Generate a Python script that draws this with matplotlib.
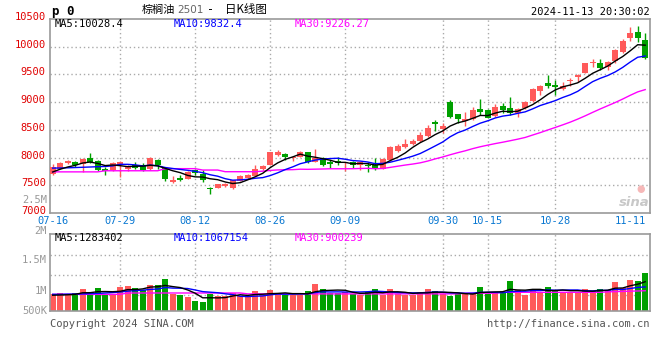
import matplotlib
matplotlib.use('Agg')
import matplotlib.pyplot as plt
from matplotlib.transforms import ScaledTranslation
import numpy as np

plt.rcParams['font.family'] = ['DejaVu Sans Mono']

# daily candles 2024-07-16 .. 2024-11-13 (palm oil 2501)
open_ = [7708, 7797, 7899, 7917, 7887, 7988, 7946, 7797, 7768, 7857,
         7797, 7857, 7857, 7797, 7964, 7809, 7560, 7631, 7619, 7768,
         7708, 7458, 7458, 7482, 7458, 7583, 7637, 7667, 7797, 7875,
         8053, 8065, 7988, 8018, 8095, 7928, 7988, 7917, 7940, 7899,
         7928, 7857, 7875, 7857, 7797, 7964, 8113, 8184, 8244, 8292,
         8381, 8635, 8511, 8995, 8782, 8664, 8694, 8885, 8853, 8748,
         8929, 8887, 8796, 8887, 9019, 9206, 9338, 9302, 9230, 9380,
         9446, 9531, 9711, 9699, 9639, 9741, 9910, 10151, 10271, 10121]
high = [7887, 7928, 7964, 7935, 7994, 8077, 7964, 7827, 7928, 7946,
        7869, 7928, 7905, 8006, 7976, 7827, 7667, 7690, 7756, 7797,
        7768, 7470, 7530, 7542, 7601, 7679, 7708, 7869, 7875, 8107,
        8137, 8077, 8036, 8113, 8107, 8155, 8006, 7964, 8006, 7928,
        7946, 7928, 7928, 7994, 7988, 8214, 8244, 8333, 8333, 8470,
        8588, 8676, 8617, 9037, 8794, 8830, 8915, 9055, 8883, 8975,
        8990, 9097, 8887, 9019, 9248, 9302, 9489, 9398, 9368, 9428,
        9507, 9711, 9771, 9771, 9747, 9952, 10133, 10361, 10379, 10241]
low = [7679, 7786, 7887, 7827, 7738, 7899, 7756, 7679, 7756, 7649,
       7750, 7786, 7750, 7768, 7786, 7583, 7548, 7583, 7607, 7679,
       7560, 7339, 7446, 7470, 7440, 7571, 7619, 7661, 7768, 7857,
       8036, 7958, 7934, 8006, 7905, 7917, 7845, 7809, 7869, 7750,
       7809, 7768, 7738, 7768, 7786, 7946, 8095, 8166, 8226, 8281,
       8369, 8487, 8440, 8718, 8629, 8570, 8676, 8766, 8706, 8735,
       8810, 8766, 8736, 8874, 9007, 9127, 9248, 9127, 9218, 9290,
       9368, 9519, 9639, 9579, 9579, 9711, 9892, 10109, 10090, 9771]
close = [7827, 7905, 7946, 7857, 7976, 7917, 7768, 7762, 7905, 7917,
         7827, 7809, 7768, 7988, 7857, 7607, 7589, 7601, 7738, 7726,
         7589, 7435, 7518, 7530, 7589, 7661, 7690, 7797, 7845, 8095,
         8095, 8006, 8018, 8095, 7917, 7994, 7875, 7881, 7905, 7917,
         7857, 7917, 7851, 7786, 7976, 8196, 8214, 8244, 8291, 8399,
         8529, 8611, 8570, 8736, 8688, 8694, 8853, 8830, 8720, 8915,
         8860, 8808, 8875, 9007, 9230, 9290, 9290, 9278, 9290, 9398,
         9488, 9699, 9729, 9609, 9729, 9940, 10109, 10241, 10163, 9790]

ma5 = [7740, 7790, 7830, 7860, 7902, 7920, 7893, 7856, 7866, 7854,
       7836, 7844, 7845, 7862, 7850, 7806, 7762, 7728, 7678, 7652,
       7649, 7618, 7601, 7560, 7532, 7547, 7598, 7653, 7716, 7818,
       7904, 7968, 8012, 8062, 8026, 8006, 7980, 7952, 7914, 7914,
       7887, 7895, 7889, 7866, 7877, 7945, 8005, 8083, 8184, 8269,
       8335, 8415, 8480, 8569, 8627, 8660, 8708, 8760, 8757, 8802,
       8836, 8827, 8836, 8893, 8956, 9042, 9138, 9219, 9276, 9309,
       9349, 9431, 9521, 9585, 9651, 9741, 9823, 9926, 10036, 10028]
ma10 = [7810, 7812, 7815, 7820, 7825, 7830, 7835, 7840, 7850, 7878,
        7878, 7868, 7850, 7864, 7852, 7821, 7803, 7786, 7770, 7751,
        7727, 7690, 7664, 7619, 7592, 7598, 7608, 7627, 7638, 7675,
        7725, 7783, 7832, 7889, 7922, 7955, 7974, 7982, 7988, 7970,
        7946, 7937, 7920, 7890, 7895, 7916, 7950, 7986, 8025, 8073,
        8140, 8210, 8281, 8376, 8448, 8497, 8561, 8620, 8663, 8714,
        8748, 8767, 8798, 8825, 8879, 8939, 8982, 9027, 9084, 9132,
        9195, 9284, 9370, 9430, 9480, 9545, 9627, 9723, 9810, 9832]
ma30 = [7742, 7742, 7742, 7742, 7742, 7742, 7742, 7762, 7762, 7762,
        7762, 7762, 7762, 7762, 7762, 7800, 7800, 7800, 7800, 7800,
        7775, 7775, 7775, 7745, 7745, 7745, 7745, 7745, 7755, 7768,
        7777, 7780, 7782, 7790, 7788, 7791, 7794, 7798, 7798, 7798,
        7799, 7803, 7806, 7799, 7803, 7823, 7844, 7865, 7883, 7905,
        7937, 7976, 8011, 8051, 8088, 8122, 8161, 8195, 8224, 8252,
        8277, 8304, 8332, 8363, 8407, 8450, 8497, 8543, 8590, 8639,
        8694, 8753, 8816, 8877, 8935, 8993, 9056, 9123, 9185, 9226]

# volume, millions of lots
vol = [0.74, 0.80, 0.73, 0.80, 0.98, 0.76, 1.02, 0.76, 0.76, 1.08,
       1.13, 1.02, 0.92, 1.16, 1.16, 1.42, 0.76, 0.71, 0.62, 0.44,
       0.40, 0.77, 0.68, 0.68, 0.80, 0.68, 0.62, 0.89, 0.73, 0.93,
       0.74, 0.73, 0.73, 0.73, 0.89, 1.20, 0.98, 0.79, 0.79, 0.84,
       0.77, 0.73, 0.84, 0.98, 0.73, 0.98, 0.74, 0.73, 0.73, 0.84,
       0.98, 0.89, 0.74, 0.68, 0.74, 0.80, 0.80, 1.07, 0.77, 0.80,
       0.84, 1.33, 0.93, 0.73, 0.98, 0.84, 1.07, 0.93, 0.84, 0.84,
       0.84, 0.98, 0.89, 0.98, 0.93, 1.29, 1.02, 1.38, 1.33, 1.69]
vma5 = [0.70, 0.71, 0.72, 0.74, 0.81, 0.814, 0.858, 0.864, 0.856, 0.876,
        0.95, 0.95, 0.982, 1.062, 1.078, 1.136, 1.084, 1.042, 0.934, 0.79,
        0.586, 0.588, 0.582, 0.594, 0.666, 0.722, 0.692, 0.734, 0.744, 0.77,
        0.782, 0.804, 0.772, 0.772, 0.764, 0.856, 0.906, 0.918, 0.93, 0.92,
        0.834, 0.784, 0.794, 0.832, 0.81, 0.852, 0.854, 0.832, 0.782, 0.804,
        0.804, 0.834, 0.836, 0.826, 0.806, 0.77, 0.752, 0.818, 0.836, 0.848,
        0.856, 0.962, 0.934, 0.926, 0.962, 0.962, 0.91, 0.91, 0.932, 0.904,
        0.904, 0.886, 0.878, 0.906, 0.924, 1.014, 1.022, 1.12, 1.19, 1.30]
vma10 = [0.74, 0.74, 0.75, 0.75, 0.76, 0.77, 0.78, 0.80, 0.82, 0.843,
         0.882, 0.904, 0.923, 0.959, 0.977, 1.043, 1.017, 1.012, 0.998, 0.934,
         0.861, 0.836, 0.812, 0.764, 0.728, 0.654, 0.64, 0.658, 0.669, 0.718,
         0.752, 0.748, 0.753, 0.758, 0.767, 0.819, 0.855, 0.845, 0.851, 0.842,
         0.845, 0.845, 0.856, 0.881, 0.865, 0.843, 0.819, 0.813, 0.807, 0.807,
         0.828, 0.844, 0.834, 0.804, 0.805, 0.787, 0.793, 0.827, 0.831, 0.827,
         0.813, 0.857, 0.876, 0.881, 0.905, 0.909, 0.936, 0.922, 0.929, 0.933,
         0.933, 0.898, 0.894, 0.919, 0.914, 0.959, 0.954, 0.999, 1.048, 1.07]
vma30 = [0.74, 0.74, 0.74, 0.74, 0.74, 0.74, 0.74, 0.74, 0.74, 0.74,
         0.80, 0.80, 0.80, 0.80, 0.80, 0.80, 0.80, 0.80, 0.80, 0.80,
         0.80, 0.80, 0.80, 0.80, 0.80, 0.80, 0.76, 0.76, 0.76, 0.76,
         0.76, 0.76, 0.76, 0.76, 0.76, 0.76, 0.76, 0.76, 0.76, 0.76,
         0.76, 0.76, 0.76, 0.76, 0.76, 0.76, 0.76, 0.76, 0.76, 0.76,
         0.76, 0.76, 0.76, 0.76, 0.76, 0.79, 0.79, 0.79, 0.79, 0.79,
         0.83, 0.83, 0.83, 0.83, 0.83, 0.83, 0.83, 0.83, 0.83, 0.83,
         0.83, 0.83, 0.83, 0.83, 0.85, 0.86, 0.87, 0.88, 0.89, 0.90]

tick_idx = [0, 9, 19, 29, 39, 52, 58, 67, 77]
tick_lbl = ['07-16', '07-29', '08-12', '08-26', '09-09', '09-30', '10-15', '10-28', '11-11']
price_ticks = [7000, 7500, 8000, 8500, 9000, 9500, 10000, 10500]

for name, arr in [('high', high), ('low', low), ('close', close), ('ma5', ma5), ('ma10', ma10),
                  ('ma30', ma30), ('vol', vol), ('vma5', vma5), ('vma10', vma10), ('vma30', vma30)]:
    if len(arr) != len(open_):
        raise SystemExit(f'{name} has {len(arr)} values')

RED = '#FF5A5A'
GREEN = '#00A000'
GRID = '#AAAAAA'
BORDER = '#9A9A9A'
W, H = 660, 360

fig = plt.figure(figsize=(6.6, 3.6), dpi=100)
ax = fig.add_axes([50 / W, 1 - 213 / H, 600 / W, 194 / H])
axv = fig.add_axes([50 / W, 1 - 311 / H, 600 / W, 77 / H])

o = np.array(open_, float)
c = np.array(close, float)
x = np.arange(len(c))
cols = np.where(c >= o, RED, GREEN)

# price panel
for xi in tick_idx[1:-1]:
    ax.axvline(xi, color=GRID, lw=1, ls=(0, (1, 2)), zorder=0)
for p in price_ticks[1:-1]:
    ax.axhline(p, color=GRID, lw=1, ls=(0, (1, 2)), zorder=0)
ax.vlines(x, low, high, colors=cols, lw=1, zorder=2)
ax.bar(x, np.maximum(np.abs(c - o), 14), bottom=np.minimum(o, c), width=0.8,
       color=cols, lw=0, zorder=3)
ax.plot(x, ma30, color='#FF00FF', lw=1, zorder=4)
ax.plot(x, ma10, color='#0000FF', lw=1, zorder=4)
ax.plot(x, ma5, color='black', lw=1, zorder=4)
ax.set_xlim(-0.36, 79.64)
ax.set_ylim(7000, 10500)
ax.set_yticks(price_ticks)
ax.set_yticklabels([str(p) for p in price_ticks], color='#E00000', fontsize=7.5)
ax.set_xticks(tick_idx)
ax.set_xticklabels(tick_lbl, color='#0A78D2', fontsize=7.5)
ax.tick_params(length=0, pad=3)
ax.tick_params(axis='x', pad=2)
up2 = ScaledTranslation(0, 3 / 100, fig.dpi_scale_trans)
for lab in ax.get_yticklabels():
    lab.set_transform(lab.get_transform() + up2)

# volume panel
vgrid = [0.71, 1.6, 2.49]
for xi in tick_idx[1:-1]:
    axv.axvline(xi, color=GRID, lw=1, ls=(0, (1, 2)), zorder=0)
for g in vgrid:
    axv.axhline(g, color=GRID, lw=1, ls=(0, (1, 2)), zorder=0)
axv.bar(x, vol, width=0.8, color=cols, lw=0, zorder=2)
axv.plot(x, vma30, color='#FF00FF', lw=1, zorder=3)
axv.plot(x, vma10, color='#0000FF', lw=1, zorder=3)
axv.plot(x, vma5, color='black', lw=1, zorder=3)
axv.set_xlim(-0.36, 79.64)
axv.set_ylim(0, 3.42)
axv.set_xticks([])
axv.set_yticks([])

for a in (ax, axv):
    for s in a.spines.values():
        s.set_color(BORDER)
        s.set_linewidth(1.2)


def ftext(px, py, s, **kw):
    fig.text(px / W, 1 - py / H, s, **kw)


ftext(52, 11, 'p 0', fontsize=9, fontweight='bold', va='center')
cjk = ['Noto Sans CJK SC', 'DejaVu Sans']
ftext(142, 10, '棕榈油', family=cjk, fontsize=8, va='center')
ftext(177, 10, '2501', family=['DejaVu Sans'], fontsize=7.5, color='#666666', va='center')
ftext(207, 10, '-', fontsize=8.5, va='center')
ftext(225, 10, '日K线图', family=cjk, fontsize=8.3, va='center')
ftext(650, 12, '2024-11-13 20:30:02', fontsize=7.5, ha='right', va='center')

ftext(55, 24, 'MA5:10028.4', fontsize=7.5, va='center')
ftext(174, 24, 'MA10:9832.4', fontsize=7.5, color='#0000FF', va='center')
ftext(295, 24, 'MA30:9226.27', fontsize=7.5, color='#FF00FF', va='center')
ftext(55, 238, 'MA5:1283402', fontsize=7.5, va='center')
ftext(174, 238, 'MA10:1067154', fontsize=7.5, color='#0000FF', va='center')
ftext(295, 238, 'MA30:900239', fontsize=7.5, color='#FF00FF', va='center')

for lbl, py in [('2.5M', 200), ('2M', 231), ('1.5M', 260), ('1M', 291), ('500K', 311)]:
    ftext(47, py, lbl, fontsize=7.5, color='#999999', ha='right', va='center')

ftext(50, 324, 'Copyright 2024 SINA.COM', fontsize=7.5, color='#555555', va='center')
ftext(649, 324, 'http://finance.sina.com.cn', fontsize=7.5, color='#555555', ha='right', va='center')

# sina watermark
ftext(641, 189, '●', family=['DejaVu Sans'], fontsize=7, color='#F6B8B8', ha='center', va='center')
ftext(634, 202, 'sina', family=['DejaVu Sans'], fontsize=9.5, fontweight='bold', style='italic',
      color='#C8C8C8', ha='center', va='center')

fig.savefig('out.png', dpi=100)
